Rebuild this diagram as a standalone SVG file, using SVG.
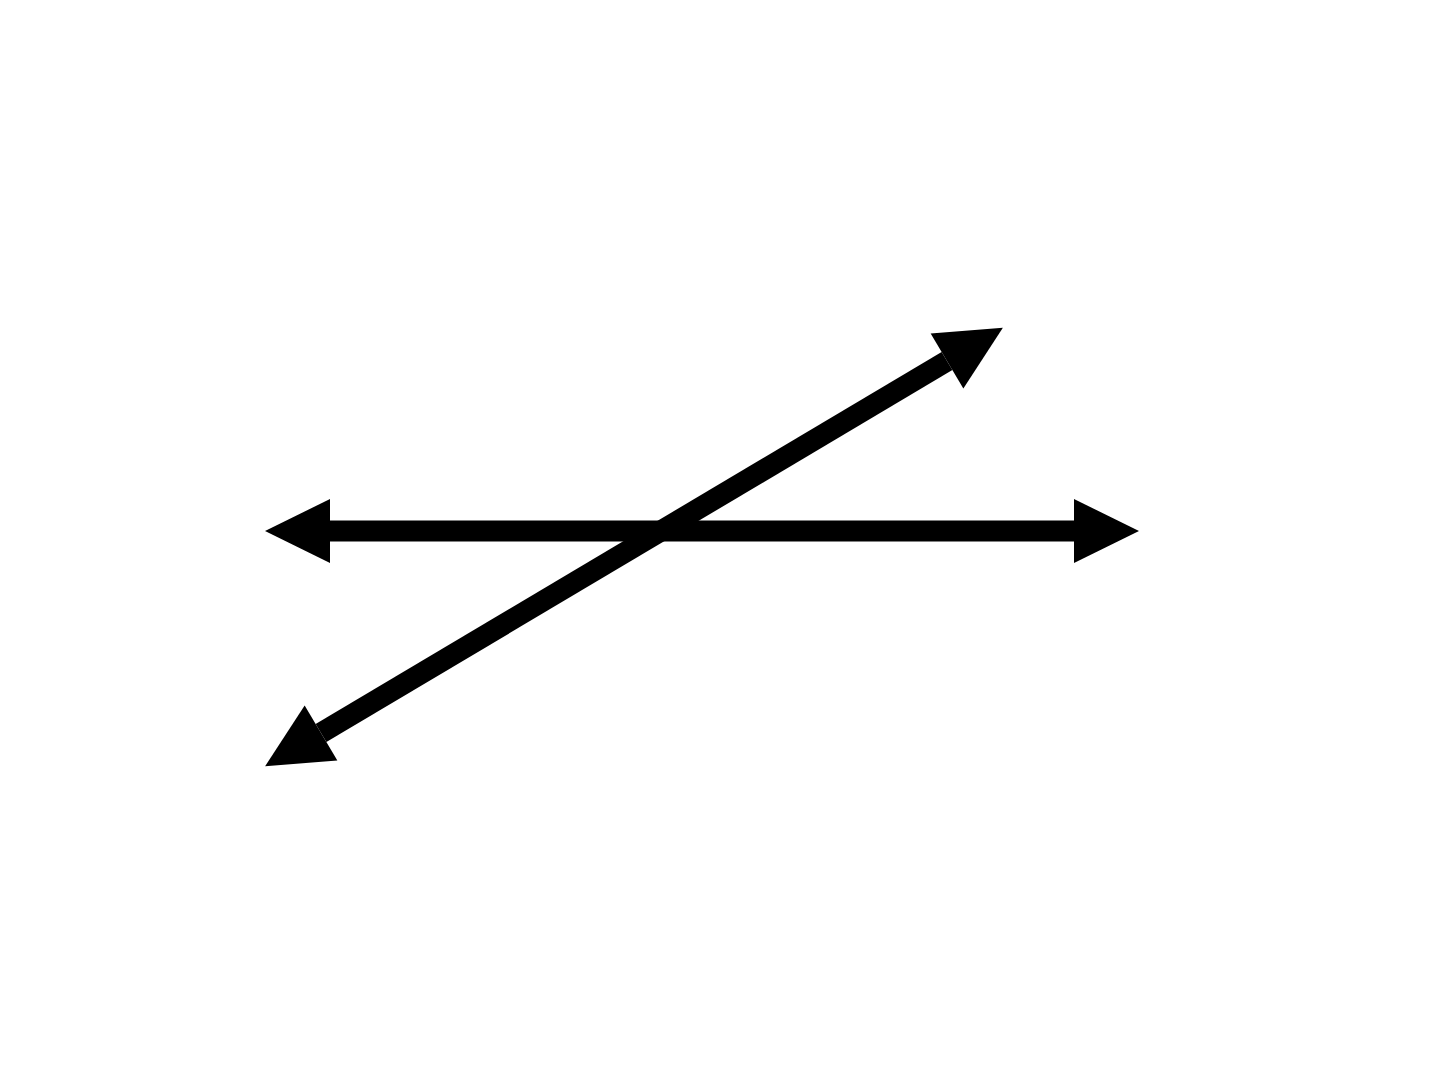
<svg xmlns="http://www.w3.org/2000/svg" width="1440" height="1080" viewBox="0 0 1440 1080">
<defs>
<marker id="arrow" markerUnits="userSpaceOnUse" markerWidth="66" markerHeight="66" refX="0" refY="32" orient="auto-start-reverse" overflow="visible">
<path d="M0,0 L65,32 L0,64 Z" fill="#000"/>
</marker>
<style>.ln{stroke:#000;stroke-width:21;fill:none;marker-start:url(#arrow);marker-end:url(#arrow)}</style>
</defs>
<rect width="1440" height="1080" fill="#fff"/>
<g id="connectors">
<line class="ln" x1="330" y1="531" x2="1074" y2="531"/>
<line class="ln" x1="321" y1="733" x2="947" y2="361"/>
</g>
</svg>
